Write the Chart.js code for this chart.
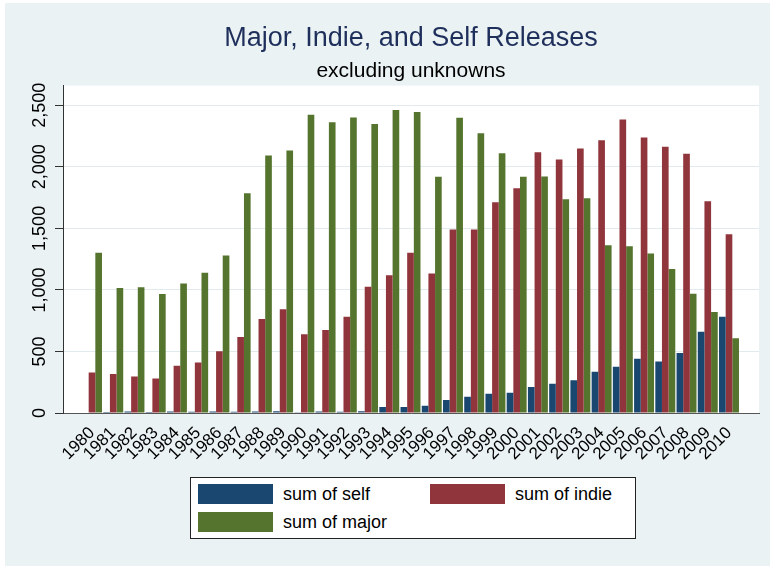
<!DOCTYPE html>
<html>
<head>
<meta charset="utf-8">
<script src="https://cdn.jsdelivr.net/npm/chart.js@4"></script>
<style>
  body { margin: 0; background: #fff; }
  #wrap { position: relative; width: 770px; height: 566px; }
  #legend {
    position: absolute; left: 190px; top: 477px; width: 444px; height: 60px;
    background: #fff; border: 1px solid #222;
    font-family: "Liberation Sans", Arial, sans-serif; font-size: 18px; color: #000;
  }
  .item { position: absolute; height: 20px; }
  .sw { position: absolute; left: 0; top: 0; width: 75px; height: 20px; }
  .lab { position: absolute; left: 85px; top: 0; line-height: 20px; white-space: nowrap; }
</style>
</head>
<body>
<div id="wrap">
  <canvas id="myChart" width="770" height="566"></canvas>
  <div id="legend"></div>
</div>
<script>
// data
var years = [1980, 1981, 1982, 1983, 1984, 1985, 1986, 1987, 1988, 1989,
             1990, 1991, 1992, 1993, 1994, 1995, 1996, 1997, 1998, 1999,
             2000, 2001, 2002, 2003, 2004, 2005, 2006, 2007, 2008, 2009, 2010];
var selfRel = [5, 8, 13, 8, 13, 10, 13, 10, 13, 15,
               3, 13, 10, 15, 49, 49, 59, 105, 132, 156,
               164, 211, 237, 267, 335, 375, 440, 418, 488, 661, 783];
var indieRel = [329, 316, 297, 280, 383, 410, 502, 618, 764, 842,
                640, 675, 783, 1026, 1120, 1301, 1134, 1490, 1490, 1712,
                1827, 2119, 2060, 2149, 2216, 2384, 2238, 2163, 2106, 1720, 1452];
var majorRel = [1301, 1015, 1021, 966, 1053, 1139, 1280, 1785, 2092, 2133,
                2424, 2362, 2400, 2349, 2462, 2446, 1920, 2398, 2273, 2111,
                1920, 1922, 1736, 1744, 1363, 1355, 1296, 1169, 969, 821, 608];
var yTicks = [0, 500, 1000, 1500, 2000, 2500];

var font = '"Liberation Sans", Arial, sans-serif';

function pts(vals) {
    return years.map(function(y, i){ return {x: y, y: vals[i]}; });
}

// backgrounds + rotated y labels like stata
var stataBits = {
    id: 'stataBits',
    beforeDraw: function(chart) {
        var c = chart.ctx, a = chart.chartArea;
        c.save();
        c.fillStyle = '#fff';
        c.fillRect(0, 0, chart.width, chart.height);
        c.fillStyle = '#eaf2f3';
        c.fillRect(5, 3, chart.width - 5, chart.height - 3);
        c.fillStyle = '#fff';
        c.fillRect(a.left, a.top, a.right - a.left, a.bottom - a.top);
        c.restore();
    },
    afterDraw: function(chart) {
        var c = chart.ctx, s = chart.scales.y;
        c.save();
        c.font = '18px ' + font;
        c.fillStyle = '#000';
        c.textAlign = 'center';
        c.textBaseline = 'middle';
        yTicks.forEach(function(v){
            c.save();
            c.translate(40, s.getPixelForValue(v));
            c.rotate(-Math.PI / 2);
            c.fillText(v.toLocaleString('en-US'), 0, 0);
            c.restore();
        });
        c.restore();
    }
};

var ctx = document.getElementById('myChart');
var chart = new Chart(ctx, {
    type: 'bar',
    data: {
        datasets: [
            { label: 'sum of self', data: pts(selfRel), backgroundColor: '#1a476f' },
            { label: 'sum of indie', data: pts(indieRel), backgroundColor: '#90353b' },
            { label: 'sum of major', data: pts(majorRel), backgroundColor: '#55752f' }
        ]
    },
    options: {
        responsive: false,
        animation: false,
        categoryPercentage: 0.94,
        barPercentage: 1.0,
        layout: { padding: { left: 0, right: 11, top: 0, bottom: 0 } },
        plugins: {
            legend: { display: false },
            tooltip: { enabled: false },
            title: {
                display: true,
                fullSize: false,
                text: 'Major, Indie, and Self Releases',
                color: '#1f2f5c',
                font: { family: font, size: 27, weight: 'normal' },
                padding: { top: 22, bottom: 4 }
            },
            subtitle: {
                display: true,
                fullSize: false,
                text: 'excluding unknowns',
                color: '#000',
                font: { family: font, size: 21, weight: 'normal' },
                padding: { top: 0, bottom: 2 }
            }
        },
        scales: {
            x: {
                type: 'linear',
                offset: false,
                min: 1978.634,
                max: 2011.413,
                afterBuildTicks: function(s){ s.ticks = years.map(function(v){ return {value: v}; }); },
                afterFit: function(s){ s.height = 566 - 413; },
                grid: { display: false },
                border: { display: true, color: '#555', width: 1 },
                ticks: {
                    autoSkip: false,
                    minRotation: 45,
                    maxRotation: 45,
                    padding: 2,
                    color: '#000',
                    font: { family: font, size: 17 },
                    callback: function(v){ return String(v); }
                }
            },
            y: {
                min: 0,
                max: 2660,
                afterBuildTicks: function(s){ s.ticks = yTicks.map(function(v){ return {value: v}; }); },
                afterFit: function(s){ s.width = 63; },
                grid: { color: '#e1eaec', lineWidth: 1, tickColor: '#333', tickLength: 8, drawTicks: true },
                border: { display: true, color: '#333', width: 1 },
                ticks: { display: false }
            }
        }
    },
    plugins: [stataBits]
});

// legend as two columns, from the datasets
var lg = document.getElementById('legend');
chart.data.datasets.forEach(function(ds, i){
    var it = document.createElement('div');
    it.className = 'item';
    it.style.left = (7 + (i % 2) * 232) + 'px';
    it.style.top = (6 + Math.floor(i / 2) * 28) + 'px';
    it.innerHTML = '<div class="sw" style="background:' + ds.backgroundColor + '"></div><div class="lab">' + ds.label + '</div>';
    lg.appendChild(it);
});
</script>
</body>
</html>
